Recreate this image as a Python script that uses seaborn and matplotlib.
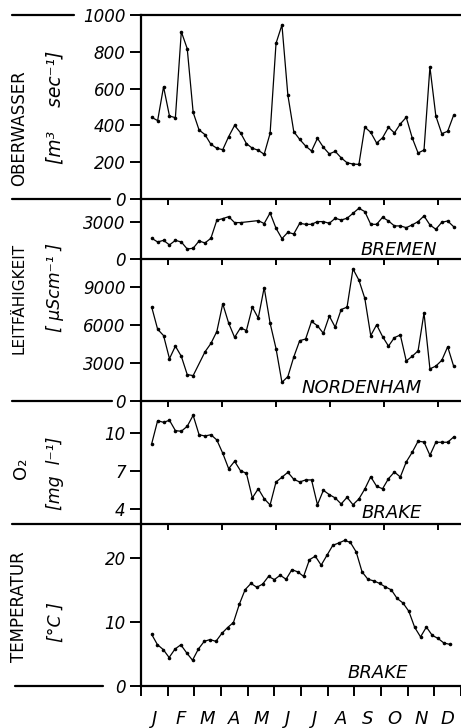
import numpy as np
import pandas as pd
import matplotlib
matplotlib.use("Agg")
import matplotlib.pyplot as plt
import seaborn as sns
from matplotlib.lines import Line2D

sns.set_theme(style="white")
plt.rcParams['font.family'] = ['DejaVu Sans']
plt.rcParams['text.color'] = 'black'
plt.rcParams['axes.labelcolor'] = 'black'
plt.rcParams['xtick.color'] = 'black'
plt.rcParams['ytick.color'] = 'black'

# ---------------- data (weekly samples through one year) ----------------
MONTHS = ["J", "F", "M", "A", "M", "J", "J", "A", "S", "O", "N", "D"]
SAMPLES = list(range(52))

oberwasser = [444, 426, 610, 451, 442, 909, 817, 471, 375, 350,
              297, 276, 268, 339, 400, 360, 301, 276, 265, 243,
              357, 846, 946, 565, 366, 324, 288, 261, 330, 281,
              245, 259, 224, 197, 190, 188, 391, 362, 304, 333,
              390, 359, 408, 444, 333, 250, 266, 717, 451, 355,
              368, 455]

leitf_bremen = [1680, 1380, 1510, 1140, 1510, 1380, 810, 870, 1460, 1300,
                1680, 3140, 3270, 3430, 2950, 2950, None, None, 3110, 2870,
                3730, 2490, 1650, 2160, 2030, 2890, 2810, 2810, 3030, 3030,
                2890, 3300, 3160, 3300, 3700, 4110, 3840, 2810, 2810, 3380,
                3080, 2680, 2680, 2540, 2760, 3030, 3490, 2760, 2410, 2970,
                3080, 2620]

leitf_nordenham = [7390, 5650, 5150, 3330, 4320, 3520, 2080, 2000, None, 3870,
                   4530, 5470, 7650, 6130, 5010, 5760, 5550, 7390, 6530, 8930,
                   6130, 4130, 1470, 1920, 3470, 4750, 4880, 6270, 5920, 5330,
                   6690, 5810, 7200, 7390, 10400, 9520, 8080, 5150, 6000, 5070,
                   4320, 4990, 5200, 3150, 3520, 3950, 6930, 2530, 2750, 3200,
                   4270, 2750]

o2_brake = [9.14, 10.94, 10.81, 10.97, 10.16, 10.11, 10.50, 11.36, 9.84, 9.74,
            9.84, 9.43, 8.39, 7.18, 7.76, 7.02, 6.82, 4.89, 5.61, 4.83,
            4.34, 6.14, 6.51, 6.90, 6.35, 6.14, 6.30, 6.30, 4.36, 5.49,
            5.15, 4.89, 4.42, 4.94, 4.36, 4.81, 5.59, 6.55, 5.80, 5.61,
            6.40, 6.92, 6.53, 7.71, 8.46, 9.33, 9.27, 8.23, 9.25, 9.25,
            9.25, 9.66]

temp_brake = [8.08, 6.45, 5.68, 4.44, 5.76, 6.43, 5.17, 4.02, 5.76, 6.96,
              7.25, 6.96, 8.19, 9.12, 9.90, 12.74, 15.03, 16.0, 15.4, 15.9,
              17.1, 16.6, 17.28, 16.65, 18.15, 17.8, 17.1, 19.7, 20.25, 18.85,
              20.4, 21.95, 22.3, 22.7, 22.4, 20.9, 17.8, 16.65, 16.4, 16.0,
              15.45, 15.0, 13.65, 12.95, 11.65, 9.15, 7.66, 9.2, 7.9, 7.42,
              6.7, 6.5]

# y-axis ticks per panel
ticks_ober = [0, 200, 400, 600, 800, 1000]
ticks_bremen = [0, 3000]
ticks_norden = [0, 3000, 6000, 9000]
ticks_o2 = [4, 7, 10]
ticks_temp = [0, 10, 20]

# ---------------- layout ----------------
W, H = 461, 728
fig = plt.figure(figsize=(W / 100, H / 100), dpi=100)


def fx(px):
    return px / W


def fy(py):
    return 1 - py / H


LEFT_PX = 141
XLIM = (-1.81, 52.25)
month_edges = np.linspace(-1.81, 52.92, 13)
month_centers = (month_edges[:-1] + month_edges[1:]) / 2

panels = [
    dict(top=15, bot=199, data=oberwasser, ylim=(0, 1000), ticks=ticks_ober, labels=[str(t) for t in ticks_ober]),
    dict(top=199, bot=259, data=leitf_bremen, ylim=(0, 4860), ticks=ticks_bremen, labels=["0", "3000"]),
    dict(top=259, bot=401, data=leitf_nordenham, ylim=(0, 11180), ticks=ticks_norden, labels=["0", "3000", "6000", "9000"]),
    dict(top=401, bot=524, data=o2_brake, ylim=(2.85, 12.48), ticks=ticks_o2, labels=["4", "7", "10"]),
    dict(top=524, bot=686, data=temp_brake, ylim=(0, 25.27), ticks=ticks_temp, labels=["0", "10", "20"]),
]

SPINE_W = 1.6
axes = []
for i, p in enumerate(panels):
    ax = fig.add_axes([fx(LEFT_PX), fy(p["bot"]), 1 - fx(LEFT_PX), (p["bot"] - p["top"]) / H])
    ax.set_facecolor("none")
    df = pd.DataFrame({"sample": SAMPLES, "value": pd.to_numeric(pd.Series(p["data"]), errors="coerce")}).dropna()
    sns.lineplot(data=df, x="sample", y="value", ax=ax, color="black", lw=0.9,
                 marker="o", markersize=2.6, markeredgewidth=0, markerfacecolor="black",
                 estimator=None, sort=False)
    ax.set_xlim(*XLIM)
    ax.set_ylim(*p["ylim"])
    ax.set_xlabel("")
    ax.set_ylabel("")
    ax.spines["right"].set_visible(False)
    for s in ["left", "top", "bottom"]:
        ax.spines[s].set_linewidth(SPINE_W)
        ax.spines[s].set_color("black")
    if i < 4:
        ax.spines["bottom"].set_visible(False)
    ax.set_yticks(p["ticks"], labels=p["labels"], fontstyle="italic", fontsize=12)
    ax.tick_params(axis="y", left=True, direction="out", length=8, width=1.4, pad=3, colors="black")
    ax.grid(False)
    if i < 4:
        # small ticks hanging into the panel below (every second month)
        ax.set_xticks(month_edges[1::2])
        ax.tick_params(axis="x", bottom=True, direction="out", length=4, width=1.4,
                       labelbottom=False, colors="black")
    else:
        ax.set_xticks(month_edges)
        ax.set_xticks(month_centers, minor=True)
        ax.set_xticklabels([])
        ax.set_xticklabels(MONTHS, minor=True, fontstyle="italic", fontsize=13)
        ax.tick_params(axis="x", which="major", bottom=True, direction="out", length=7,
                       width=1.4, colors="black")
        ax.tick_params(axis="x", which="minor", bottom=True, length=0, pad=17, colors="black")
    axes.append(ax)

# ---------------- left separator lines ----------------
for (x0, x1, y) in [(12, 74, 15), (12, 110, 199), (12, 112, 401), (12, 141, 524), (15, 103, 686)]:
    fig.add_artist(Line2D([fx(x0), fx(x1)], [fy(y), fy(y)], color="black", lw=SPINE_W))

# ---------------- axis titles ----------------
fig.text(fx(19), fy(128), "OBERWASSER", rotation=90, ha="center", va="center", fontsize=12)
fig.text(fx(55), fy(107), "[m³    sec⁻¹]", rotation=90, ha="center", va="center", fontsize=13.5, fontstyle="italic")
fig.text(fx(19), fy(298), "LEITFÄHIGKEIT", rotation=90, ha="center", va="center", fontsize=11)
fig.text(fx(55), fy(288), "[ µScm⁻¹ ]", rotation=90, ha="center", va="center", fontsize=12.5, fontstyle="italic")
fig.text(fx(21), fy(468), "O₂", rotation=90, ha="center", va="center", fontsize=13)
fig.text(fx(55), fy(473), "[mg  l⁻¹]", rotation=90, ha="center", va="center", fontsize=12.5, fontstyle="italic")
fig.text(fx(19), fy(607), "TEMPERATUR", rotation=90, ha="center", va="center", fontsize=12)
fig.text(fx(56), fy(622), "[°C ]", rotation=90, ha="center", va="center", fontsize=12.5, fontstyle="italic")

# ---------------- station labels ----------------
fig.text(fx(437), fy(250), "BREMEN", ha="right", va="center", fontsize=13, fontstyle="italic")
fig.text(fx(422), fy(388), "NORDENHAM", ha="right", va="center", fontsize=13, fontstyle="italic")
fig.text(fx(422), fy(513), "BRAKE", ha="right", va="center", fontsize=13, fontstyle="italic")
fig.text(fx(408), fy(673), "BRAKE", ha="right", va="center", fontsize=13, fontstyle="italic")

fig.savefig("out.png", dpi=100, facecolor="white")
